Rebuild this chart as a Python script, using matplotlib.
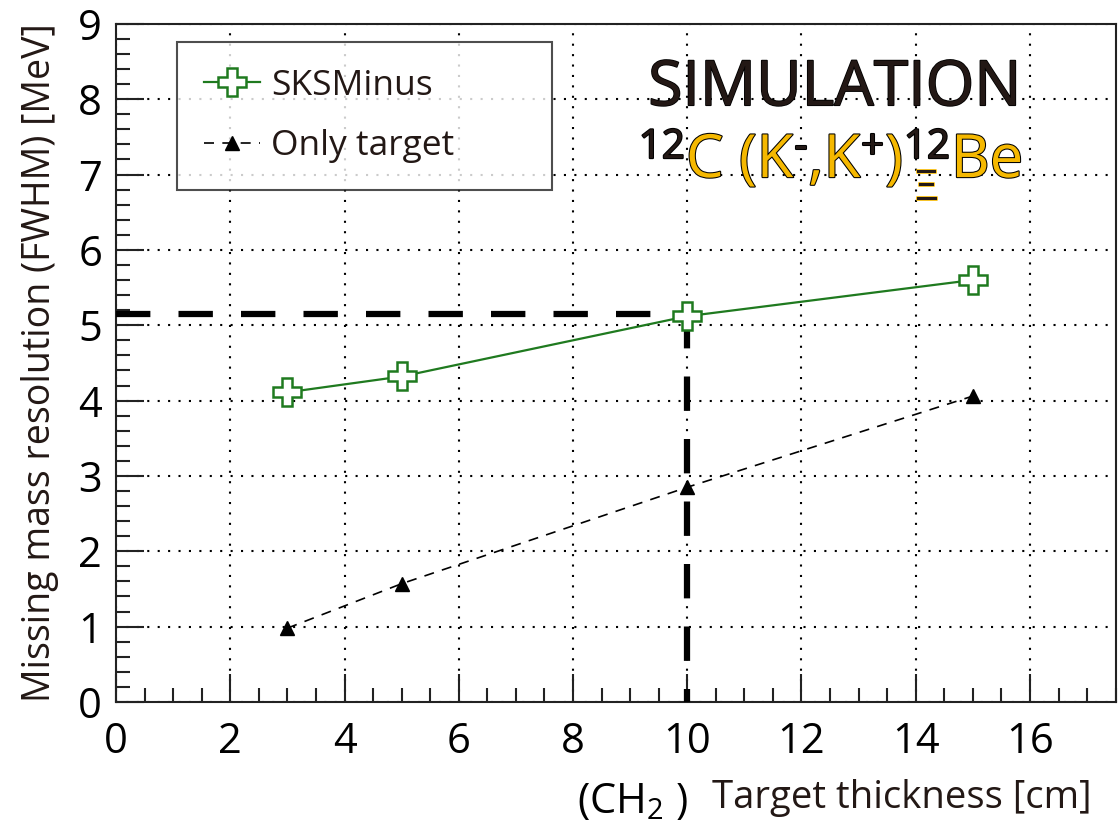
import matplotlib.pyplot as plt
import matplotlib.patheffects as pe
from matplotlib.ticker import MultipleLocator

plt.rcParams['font.family'] = ['Open Sans', 'DejaVu Sans']
plt.rcParams['mathtext.fontset'] = 'custom'
plt.rcParams['mathtext.rm'] = 'Open Sans'

# Target thickness [cm] and missing mass resolution (FWHM) [MeV]
thickness = [3, 5, 10, 15]
sksminus = [4.11, 4.32, 5.12, 5.60]
only_target = [0.98, 1.57, 2.85, 4.06]

# chosen working point (10 cm CH2)
sel_thickness = 10
sel_resolution = 5.15

DARK = '#231815'
YELLOW = '#f5b800'

fig = plt.figure(figsize=(11.2, 8.22), dpi=100)
ax = fig.add_axes([0.1036, 0.146, 0.8925, 0.825])

ax.plot(thickness, sksminus, color='#1f7a1f', lw=1.6, marker='P', ms=20,
        mfc='white', mec='#1f7a1f', mew=1.8, label='SKSMinus', zorder=4)
ax.plot(thickness, only_target, color='black', lw=1.2, ls=(0, (6, 5)),
        marker='^', ms=10, label='Only target', zorder=4)

# working point guide lines
ax.plot([0, sel_thickness], [sel_resolution, sel_resolution], color='black',
        lw=4.5, ls=(0, (5.5, 4.5)), zorder=3)
ax.plot([sel_thickness, sel_thickness], [sel_resolution, 0], color='black',
        lw=4.5, ls=(0, (5.5, 4.5)), zorder=3)

ax.set_xlim(0, 17.5)
ax.set_ylim(0, 9)
ax.xaxis.set_major_locator(MultipleLocator(2))
ax.xaxis.set_minor_locator(MultipleLocator(0.5))
ax.yaxis.set_major_locator(MultipleLocator(1))
ax.yaxis.set_minor_locator(MultipleLocator(0.2))
ax.tick_params(which='both', direction='in', top=False, right=False,
               labelsize=30, color='#222222', width=1.5)
ax.tick_params(axis='x', pad=14)
ax.tick_params(axis='y', pad=10)
ax.tick_params(which='major', length=20)
ax.tick_params(which='minor', length=10)
for s in ax.spines.values():
    s.set_linewidth(1.5)
    s.set_color('#222222')
ax.grid(True, which='major', ls=(0, (1, 4)), color='black', lw=1.5)

ax.set_ylabel('Missing mass resolution (FWHM) [MeV]', fontsize=27,
              color=DARK, labelpad=14)
fig.text(0.975, 0.017, 'Target thickness [cm]', fontsize=27.5,
         color=DARK, ha='right', va='baseline')
fig.text(0.515, 0.011, r'(CH$_{2}$ )', fontsize=30, color='black',
         ha='left', va='baseline')

leg = ax.legend(loc='upper left', bbox_to_anchor=(0.061, 0.973, 0.375, 0.0),
                mode='expand', fontsize=25.5,
                frameon=True, fancybox=False, edgecolor='#222222',
                borderpad=0.75, labelspacing=0.75, handlelength=1.6,
                handletextpad=0.3, borderaxespad=0)
leg.get_frame().set_linewidth(1.5)
for t in leg.get_texts():
    t.set_color(DARK)

ax.text(0.906, 0.95, 'SIMULATION', transform=ax.transAxes, fontsize=45,
        color=DARK, ha='right', va='top', zorder=6,
        path_effects=[pe.withStroke(linewidth=1.2, foreground='black')])

# reaction label, built piece by piece so the superscripts can be dark
pieces = [
    ('12', 'sup', DARK),
    ('C (K', 'base', YELLOW),
    ('-', 'sup', DARK),
    (',K', 'base', YELLOW),
    ('+', 'sup', DARK),
    (')', 'base', YELLOW),
    ('12', 'sup', DARK),
    ('Be', 'base', YELLOW),
]
fig.canvas.draw()
renderer = fig.canvas.get_renderer()
x0, y0 = ax.transAxes.transform((0.523, 0.774))
x = x0
for txt, kind, col in pieces:
    size = 43 if kind == 'base' else 29
    dy = 0 if kind == 'base' else 19
    t = fig.text(x / fig.bbox.width, (y0 + dy) / fig.bbox.height, txt,
                 fontsize=size, color=col, ha='left', va='baseline', zorder=6,
                 path_effects=[pe.withStroke(linewidth=1.5, foreground='black')])
    bb = t.get_window_extent(renderer)
    if txt == '12' and x > x0:
        # cascade hyperon subscript beneath the mass number
        fig.text((x + bb.width / 2) / fig.bbox.width, (y0 - 23) / fig.bbox.height,
                 r'$\Xi$', fontsize=30, color=DARK, ha='center', va='baseline',
                 zorder=6,
                 path_effects=[pe.withStroke(linewidth=1.2, foreground=YELLOW)])
    x += bb.width + 1

fig.savefig('out.png', dpi=100)
